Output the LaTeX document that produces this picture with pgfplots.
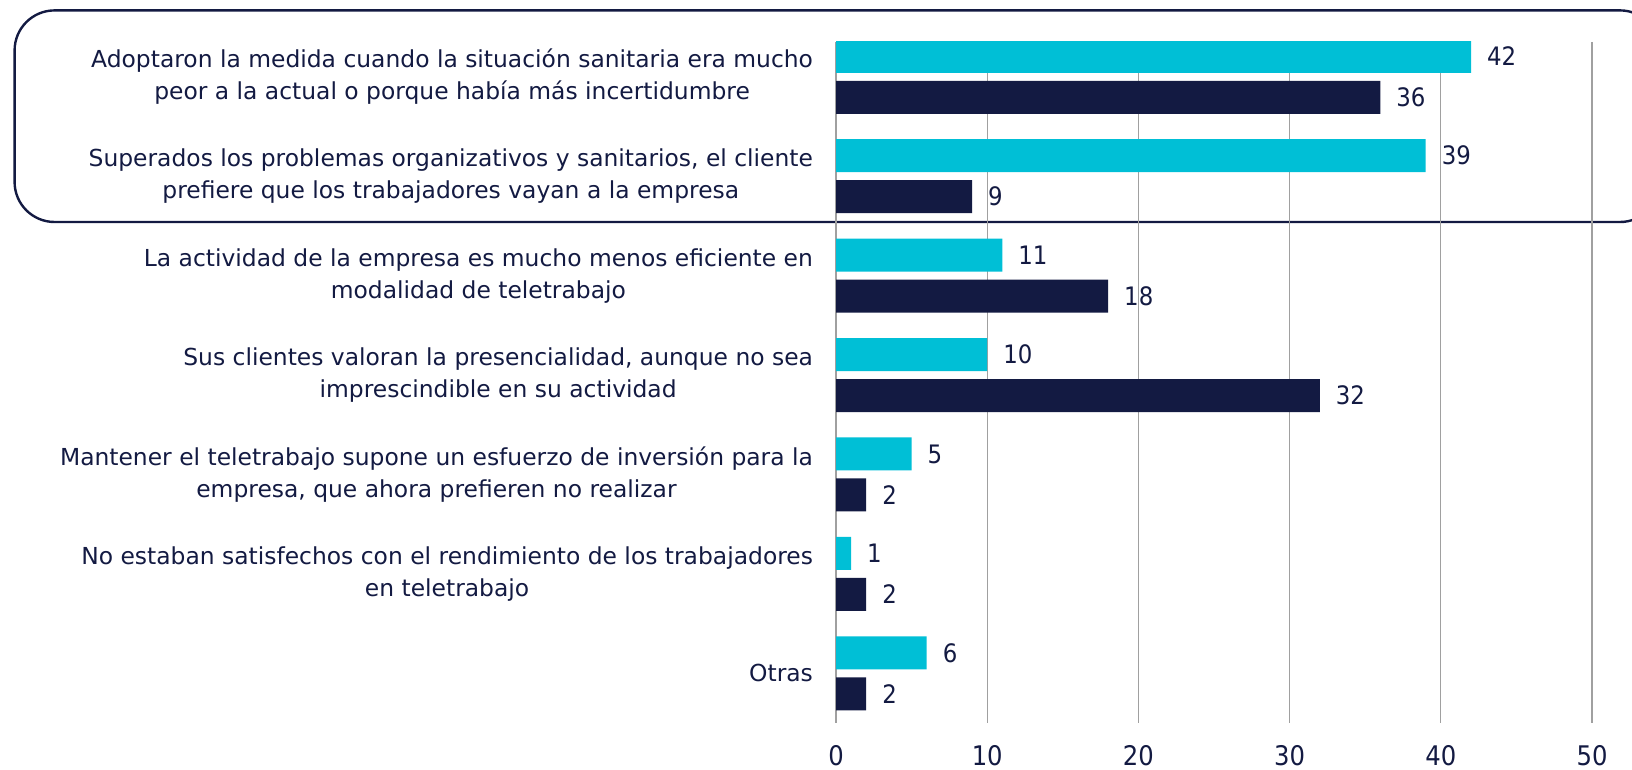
\documentclass[border=0pt]{standalone}
\usepackage{pgfplots}
\pgfplotsset{compat=1.18}
\usepackage{fontspec}
\setmainfont{DejaVu Sans}
\newfontfamily\numfont{DejaVu Sans Condensed}
\definecolor{cyanbar}{HTML}{00BFD6}
\definecolor{navy}{HTML}{131A42}
\definecolor{gridgray}{HTML}{A0A0A0}
\begin{document}
\begin{tikzpicture}
\path[use as bounding box] (0,0) rectangle (816pt,-385pt);
\draw[navy, line width=1.2pt, rounded corners=20pt] (7.3pt,-5.2pt) rectangle (830pt,-111pt);
\begin{axis}[
  at={(418pt,-361.5pt)}, anchor=south west,
  scale only axis, width=378pt, height=340.5pt,
  xbar, y dir=reverse,
  xmin=0, xmax=50, ymin=-0.35, ymax=6.5,
  bar width=16.5pt,
  xtick={0,10,20,30,40,50},
  ytick={0,1,2,3,4,5,6},
  yticklabels={
    {Adoptaron la medida cuando la situación sanitaria era mucho\\peor a la actual o porque había más incertidumbre},
    {Superados los problemas organizativos y sanitarios, el cliente\\prefiere que los trabajadores vayan a la empresa},
    {La actividad de la empresa es mucho menos eficiente en\\modalidad de teletrabajo},
    {Sus clientes valoran la presencialidad, aunque no sea\\imprescindible en su actividad},
    {Mantener el teletrabajo supone un esfuerzo de inversión para la\\empresa, que ahora prefieren no realizar},
    {No estaban satisfechos con el rendimiento de los trabajadores\\en teletrabajo},
    {Otras}},
  yticklabel style={align=center, font=\fontsize{11.7pt}{16pt}\selectfont, text=navy, xshift=-8pt},
  xticklabel style={font=\numfont\fontsize{13.5pt}{16pt}\selectfont, text=navy, inner sep=0pt, anchor=north, yshift=-11pt},
  /pgf/number format/assume math mode=true,
  major tick length=0pt,
  axis line style={draw=none},
  xmajorgrids, major x grid style={gridgray, line width=0.6pt},
  nodes near coords,
  every node near coord/.append style={font=\numfont\fontsize{12.7pt}{16pt}\selectfont, text=navy, anchor=west, xshift=4.5pt},
]
\addplot[draw=none, fill=cyanbar, bar shift=10.25pt] coordinates {(42,0) (39,1) (11,2) (10,3) (5,4) (1,5) (6,6)};
\addplot[draw=none, fill=navy, bar shift=-10.25pt] coordinates {(36,0) (9,1) (18,2) (32,3) (2,4) (2,5) (2,6)};
\end{axis}
\end{tikzpicture}
\end{document}
